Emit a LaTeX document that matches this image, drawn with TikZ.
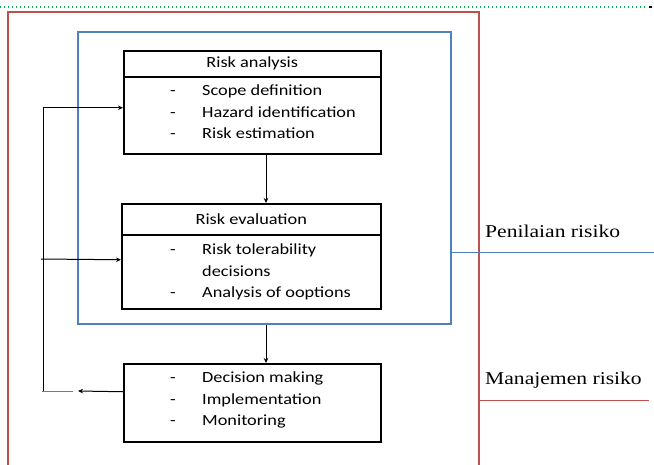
\documentclass[tikz,border=0pt]{standalone}
\usepackage{fontspec}
\setmainfont[FakeStretch=1.2]{Liberation Serif}
\newfontfamily\boxfont[FakeStretch=1.18]{Carlito}
\usepackage{xcolor}
\usepackage{tikz}
\usetikzlibrary{arrows.meta}
\definecolor{riskred}{RGB}{192,80,77}
\definecolor{riskblue}{RGB}{79,129,189}
\definecolor{dotgreen}{RGB}{0,176,80}

\begin{document}
\begin{tikzpicture}[x=1pt, y=-1pt, >={Stealth[length=5pt,width=4.5pt]},
    stagebox/.style={rectangle, draw, line width=1.5pt, inner sep=0pt, anchor=north west, minimum width=257pt, font=\boxfont\fontsize{15.5}{21.5}\selectfont},
    tasklist/.style={inner sep=0pt, anchor=west, font=\boxfont\fontsize{15.5}{21.5}\selectfont},
    sidelabel/.style={inner sep=0pt, anchor=base west, font=\fontsize{18}{20}\selectfont}]
    \useasboundingbox (0,0) rectangle (654,464);
    \draw[dotgreen, line width=1.3pt, dash pattern=on 1.3pt off 2.7pt] (0,7) -- (645,7);
    \draw[line width=1.3pt] (649,7) -- (652,7);
    \node[rectangle, draw=riskred, line width=2.4pt, minimum width=471pt, minimum height=460pt, anchor=north west] (manage) at (7,11) {};
    \node[rectangle, draw=riskblue, line width=2.4pt, minimum width=373pt, minimum height=292pt, anchor=north west] (assess) at (77,31) {};

    \node[stagebox, minimum height=26pt] (analysis) at (123,50) {Risk analysis};
    \node[stagebox, minimum height=77pt] (analysisbody) at (123,76) {};
    \node[tasklist] (analysislist) at (170,113) {\begin{tabular}{@{}p{32pt}@{}l@{}}-&Scope definition\\-&Hazard identification\\-&Risk estimation\end{tabular}};

    \node[stagebox, minimum width=259pt, minimum height=31pt] (evaluation) at (121,203) {Risk evaluation};
    \node[stagebox, minimum width=259pt, minimum height=74pt] (evaluationbody) at (121,234) {};
    \node[tasklist] (evaluationlist) at (170,272) {\begin{tabular}{@{}p{32pt}@{}l@{}}-&Risk tolerability\\&decisions\\-&Analysis of ooptions\end{tabular}};

    \node[stagebox, minimum height=78pt] (decision) at (123,363) {};
    \node[tasklist] (decisionlist) at (170,400) {\begin{tabular}{@{}p{32pt}@{}l@{}}-&Decision making\\-&Implementation\\-&Monitoring\end{tabular}};

    \coordinate (flow) at (266,0);
    \coordinate (loop) at (43,391);
    \coordinate (tap) at (41,259);
    \coordinate (return) at (78,391);
    \coordinate (gap) at (73,391);
    \coordinate (assessend) at (654,252);
    \coordinate (manageend) at (649,400);

    \draw[->, line width=1pt] (analysisbody.south -| flow) -- (evaluation.north -| flow);
    \draw[->, line width=1pt] (assess.south -| flow) -- (decision.north -| flow);
    \draw[->, line width=1pt] (loop) |- ([yshift=7.5pt]analysisbody.west);
    \draw[->, line width=1pt] (tap) -- ([yshift=12pt]evaluationbody.west);
    \draw[->, line width=1pt] ([yshift=11pt]decision.west) -- (return);
    \draw[riskblue, line width=1pt] ([xshift=-1pt]loop) -- (gap);
    \draw[riskblue, line width=1pt] (assess.east |- assessend) -- (assessend);
    \draw[riskred, line width=1pt] (manage.east |- manageend) -- (manageend);

    \node[sidelabel] (assesslabel) at (485,237) {Penilaian risiko};
    \node[sidelabel] (managelabel) at (485,384) {Manajemen risiko};
\end{tikzpicture}
\end{document}
